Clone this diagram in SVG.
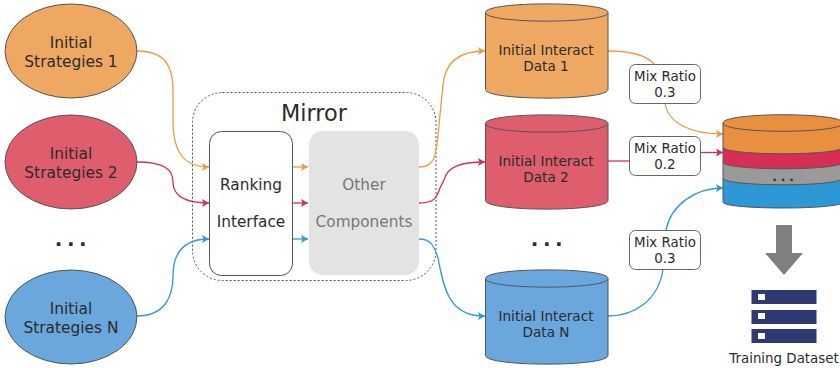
<svg xmlns="http://www.w3.org/2000/svg" width="840" height="368" viewBox="0 0 840 368">
<style>
text{font-family:"DejaVu Sans",Verdana,sans-serif;font-size:15.4px;fill:#2b2b2b;text-anchor:middle}
.s{stroke:#555;stroke-width:1}
.o{fill:#eea862}.r{fill:#de5e6e}.b{fill:#69a7dc}
.c{fill:none;stroke-width:1.3}
.co{stroke:#ef9a45}.cr{stroke:#d92c56}.cb{stroke:#2f9ada}
.mb{fill:#fff;stroke:#666;stroke-width:1}
.bar{fill:#2e3a72}.sq{fill:#fff}
.t{font-size:13.6px}
.m{font-size:13.4px}
.n{font-size:15.3px}
.d{font-size:20px;font-weight:bold;letter-spacing:4.5px}
</style>
<defs>
<marker id="ao" markerUnits="userSpaceOnUse" markerWidth="8" markerHeight="8" refX="7" refY="4" orient="auto"><path d="M0 0L7 4L0 8L1.500 4Z" fill="#ef9a45"/></marker>
<marker id="ar" markerUnits="userSpaceOnUse" markerWidth="8" markerHeight="8" refX="7" refY="4" orient="auto"><path d="M0 0L7 4L0 8L1.500 4Z" fill="#d92c56"/></marker>
<marker id="ab" markerUnits="userSpaceOnUse" markerWidth="8" markerHeight="8" refX="7" refY="4" orient="auto"><path d="M0 0L7 4L0 8L1.500 4Z" fill="#2f9ada"/></marker>
</defs>
<g id="mirror"><rect x="192.500" y="92.500" width="243.500" height="188" rx="30" fill="none" stroke="#555" stroke-width="1" stroke-dasharray="2 2"/><text x="314" y="121" style="font-size:22.400px">Mirror</text></g>
<g id="connectors">
<path class="c co" marker-end="url(#ao)" d="M137 51C165 51 173 66 173 90V120C173 150 182 167 209 167"/>
<path class="c cr" marker-end="url(#ar)" d="M137 162C165 162 173 170 173 182C173 194 182 203 209 203"/>
<path class="c cb" marker-end="url(#ab)" d="M137 316C165 316 173 296 173 276C173 254 182 239 209 239"/>
<path class="c co" marker-end="url(#ao)" d="M292 167H308"/>
<path class="c cr" marker-end="url(#ar)" d="M292 203H308"/>
<path class="c cb" marker-end="url(#ab)" d="M292 239H308"/>
<path class="c co" marker-end="url(#ao)" d="M419 167C435 167 436 155 438 135L443 85C445 62 460 51 485 51"/>
<path class="c cr" marker-end="url(#ar)" d="M419 203C435 203 437 197 440 188L444 180C447 167 460 162 485 162"/>
<path class="c cb" marker-end="url(#ab)" d="M419 239C430 239 434 245 438 258C444 290 450 317 485 316"/>
<path class="c co" d="M608 51C630 51 647 55 655 65"/>
<path class="c co" marker-end="url(#ao)" d="M665 103C668 123 690 134 723 134"/>
<path class="c cr" d="M608 161H629"/>
<path class="c cr" marker-end="url(#ar)" d="M701 152.500H723"/>
<path class="c cb" d="M608 316C635 316 658 300 663 270"/>
<path class="c cb" marker-end="url(#ab)" d="M666 230C671 205 695 188 723 188"/>
</g>
<g id="s1"><ellipse class="o s" cx="71" cy="51" rx="66" ry="47"/><text x="71" y="47.500">Initial</text><text x="71" y="66.500">Strategies 1</text></g>
<g id="s2"><ellipse class="r s" cx="71" cy="162" rx="66" ry="47"/><text x="71" y="158.500">Initial</text><text x="71" y="177.500">Strategies 2</text></g>
<g id="dots1"><text class="d" x="73" y="246">...</text></g>
<g id="sn"><ellipse class="b s" cx="71" cy="317" rx="66" ry="47"/><text x="71" y="313.500">Initial</text><text x="71" y="332.500">Strategies N</text></g>
<g id="ranking"><rect x="209.500" y="131.500" width="83" height="144" rx="12" fill="#fff" stroke="#555"/><text class="n" x="251" y="190">Ranking</text><text class="n" x="251" y="227">Interface</text></g>
<g id="other"><rect x="309" y="131" width="110" height="144" rx="14" fill="#e3e3e3"/><text class="n" x="364" y="190" style="fill:#777">Other</text><text class="n" x="364" y="227" style="fill:#777">Components</text></g>
<g id="d1"><path class="o s" d="M485.500 12.500C485.500 1 608 1 608 12.500V89.500C608 101 485.500 101 485.500 89.500Z"/><path fill="none" class="s" d="M485.500 12.500C485.500 24 608 24 608 12.500"/><text class="t" x="546" y="55">Initial Interact</text><text class="t" x="546" y="71">Data 1</text></g>
<g id="d2"><path class="r s" d="M485.500 123.500C485.500 112 608 112 608 123.500V200.500C608 212 485.500 212 485.500 200.500Z"/><path fill="none" class="s" d="M485.500 123.500C485.500 135 608 135 608 123.500"/><text class="t" x="546" y="166">Initial Interact</text><text class="t" x="546" y="182">Data 2</text></g>
<g id="dots2"><text class="d" x="549" y="246">...</text></g>
<g id="dn"><path class="b s" d="M485.500 278.500C485.500 267 608 267 608 278.500V355.500C608 367 485.500 367 485.500 355.500Z"/><path fill="none" class="s" d="M485.500 278.500C485.500 290 608 290 608 278.500"/><text class="t" x="546" y="321">Initial Interact</text><text class="t" x="546" y="337">Data N</text></g>
<g id="m1"><rect class="mb" x="629.500" y="64.500" width="71" height="39" rx="6"/><text class="m" x="665" y="81">Mix Ratio</text><text class="m" x="665" y="97">0.3</text></g>
<g id="m2"><rect class="mb" x="629.500" y="136.500" width="71" height="39" rx="6"/><text class="m" x="665" y="153">Mix Ratio</text><text class="m" x="665" y="169">0.2</text></g>
<g id="m3"><rect class="mb" x="629.500" y="230.500" width="71" height="39" rx="6"/><text class="m" x="665" y="247">Mix Ratio</text><text class="m" x="665" y="263">0.3</text></g>
<g id="stack">
<path fill="#2e97d5" class="s" d="M723 178V202C723 210 843 210 843 202V178Z"/>
<path fill="#9a9a9a" class="s" d="M723 162V178C723 187 843 187 843 178V162Z"/>
<path fill="#d62e54" class="s" d="M723 147V162C723 171 843 171 843 162V147Z"/>
<path fill="#e98f40" class="s" d="M723 123C723 112 843 112 843 123V147C843 156 723 156 723 147Z"/>
<path fill="none" class="s" d="M723 123C723 134 843 134 843 123"/>
<text x="785" y="181" style="font-size:12px;font-weight:bold;letter-spacing:4px">...</text>
</g>
<g id="bigarrow"><path d="M776 225H792V253H803L784 275L765 253H776Z" fill="#808080"/></g>
<g id="dataset"><rect class="bar" x="751.500" y="290" width="65" height="14"/><rect class="sq" x="758" y="294" width="7" height="6"/><rect class="bar" x="751.500" y="310" width="65" height="14"/><rect class="sq" x="758" y="313" width="7" height="6"/><rect class="bar" x="751.500" y="329" width="65" height="14"/><rect class="sq" x="758" y="333" width="7" height="6"/><text class="m" x="784" y="363">Training Dataset</text></g>
</svg>
